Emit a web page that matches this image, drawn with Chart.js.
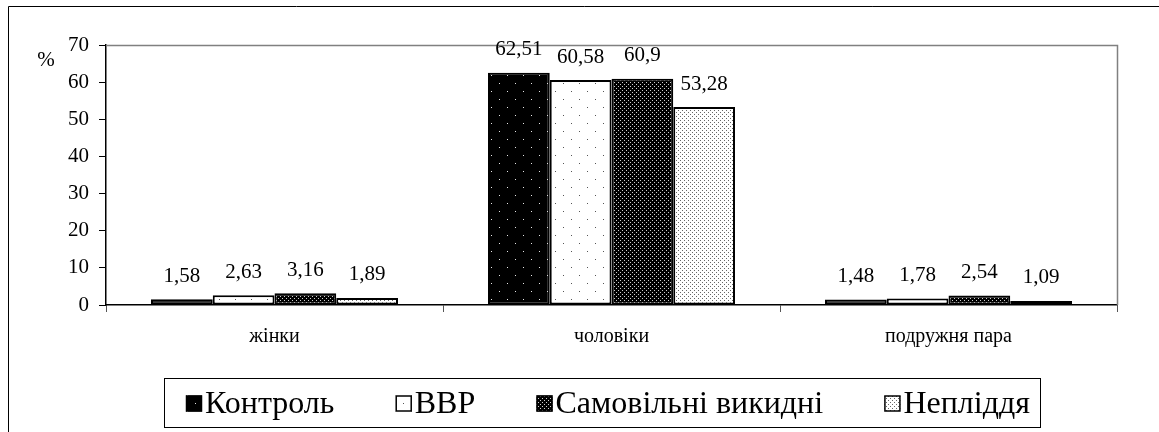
<!DOCTYPE html>
<html>
<head>
<meta charset="utf-8">
<script src="https://cdn.jsdelivr.net/npm/chart.js@4.4.1/dist/chart.umd.min.js"></script>
<style>
  html, body { margin: 0; padding: 0; background: #fff; }
  #wrap { width: 1159px; height: 432px; }
</style>
</head>
<body>
<div id="wrap"><canvas id="c" width="1159" height="432"></canvas></div>
<script>
// ---- data ----
const categories = ['жінки', 'чоловіки', 'подружня пара'];
const seriesNames = ['Контроль', 'ВВР', 'Самовільні викидні', 'Непліддя'];
const kontrol = [1.58, 62.51, 1.48];
const vvr = [2.63, 60.58, 1.78];
const samovilni = [3.16, 60.9, 2.54];
const nepliddia = [1.89, 53.28, 1.09];
const yTicks = [0, 10, 20, 30, 40, 50, 60, 70];
const yUnit = '%';

const SERIF = '"Liberation Serif", "Times New Roman", serif';

function makePattern(bg, fg, size, dots) {
  const c = document.createElement('canvas');
  c.width = size; c.height = size;
  const x = c.getContext('2d');
  x.fillStyle = bg; x.fillRect(0, 0, size, size);
  x.fillStyle = fg;
  dots.forEach(d => x.fillRect(d[0], d[1], 1, 1));
  return document.getElementById('c').getContext('2d').createPattern(c, 'repeat');
}
const patKontrol = makePattern('#000', '#e8e8e8', 16, [[3, 3], [11, 11]]);
const patVvr = makePattern('#fff', '#555', 16, [[3, 3], [11, 11]]);
const patSam = makePattern('#000', '#d0d0d0', 4, [[0, 0], [2, 2]]);
const patNep = makePattern('#fff', '#666', 4, [[0, 0], [2, 2]]);

const seriesValues = [kontrol, vvr, samovilni, nepliddia];
const seriesFills = [patKontrol, patVvr, patSam, patNep];

const fmt = v => String(v).replace('.', ',');

const decorPlugin = {
  id: 'decor',
  afterDraw(chart) {
    const ctx = chart.ctx;
    const a = chart.chartArea;
    ctx.save();
    // outer frame (left + top)
    ctx.strokeStyle = '#000';
    ctx.lineWidth = 1;
    ctx.beginPath();
    ctx.moveTo(8.5, 440); ctx.lineTo(8.5, 6.5); ctx.lineTo(1160, 6.5);
    ctx.stroke();
    // plot area top/right frame
    ctx.strokeStyle = '#808080';
    ctx.lineWidth = 1.5;
    ctx.beginPath();
    ctx.moveTo(a.left, a.top + 0.5); ctx.lineTo(a.right + 0.5, a.top + 0.5); ctx.lineTo(a.right + 0.5, a.bottom);
    ctx.stroke();
    // unit label
    ctx.fillStyle = '#000';
    ctx.font = '21px ' + SERIF;
    ctx.textAlign = 'center';
    ctx.textBaseline = 'middle';
    ctx.fillText(yUnit, 46, a.top + 15);
    // value labels
    chart.data.datasets.forEach((ds, i) => {
      const meta = chart.getDatasetMeta(i);
      meta.data.forEach((el, j) => {
        ctx.fillText(fmt(ds.data[j]), el.x, el.y - 23);
      });
    });
    // legend
    const boxL = 164, boxT = 378, boxR = 1040, boxB = 427;
    ctx.strokeStyle = '#000';
    ctx.lineWidth = 1;
    ctx.strokeRect(boxL + 0.5, boxT + 0.5, boxR - boxL, boxB - boxT);
    ctx.font = '32px ' + SERIF;
    const sq = 16, gapTxt = 3;
    const widths = chart.data.datasets.map(ds => sq + gapTxt + ctx.measureText(ds.label).width);
    const total = widths.reduce((s, w) => s + w, 0);
    const startX = boxL + 22, endX = boxR - 10;
    const gap = Math.max(20, (endX - startX - total) / (widths.length - 1));
    let x = startX;
    const cy = (boxT + boxB) / 2 + 1;
    ctx.textAlign = 'left';
    chart.data.datasets.forEach((ds, i) => {
      ctx.fillStyle = ds.backgroundColor;
      ctx.fillRect(x, cy - sq / 2, sq, sq);
      ctx.strokeStyle = '#000';
      ctx.lineWidth = 1.5;
      ctx.strokeRect(x + 0.5, cy - sq / 2 + 0.5, sq - 1, sq - 1);
      ctx.fillStyle = '#000';
      ctx.fillText(ds.label, x + sq + gapTxt, cy + 1);
      x += widths[i] + gap;
    });
    ctx.restore();
  }
};

new Chart(document.getElementById('c'), {
  type: 'bar',
  data: {
    labels: categories,
    datasets: seriesNames.map((name, i) => ({
      label: name,
      data: seriesValues[i],
      backgroundColor: seriesFills[i],
      borderColor: '#000',
      borderWidth: 2,
      borderSkipped: false,
      categoryPercentage: 0.733,
      barPercentage: 1.0
    }))
  },
  options: {
    responsive: false,
    devicePixelRatio: 1,
    animation: false,
    layout: { padding: { left: 0, right: 42, top: 45, bottom: 0 } },
    plugins: { legend: { display: false }, tooltip: { enabled: false } },
    scales: {
      x: {
        grid: { display: true, drawOnChartArea: false, drawTicks: true, tickLength: 7, color: '#555', offset: true },
        border: { display: true, color: '#000', width: 1.5 },
        ticks: { color: '#000', font: { family: SERIF, size: 20 }, padding: 13, maxRotation: 0 },
        afterFit(s) { s.height = 127; }
      },
      y: {
        min: 0, max: 70,
        afterBuildTicks(s) { s.ticks = yTicks.map(v => ({ value: v })); },
        grid: { display: true, drawOnChartArea: false, drawTicks: true, tickLength: 7, color: '#000' },
        border: { display: true, color: '#000', width: 1.5 },
        ticks: { color: '#000', font: { family: SERIF, size: 21 }, padding: 10 },
        afterFit(s) { s.width = 106; }
      }
    }
  },
  plugins: [decorPlugin]
});
</script>
</body>
</html>
